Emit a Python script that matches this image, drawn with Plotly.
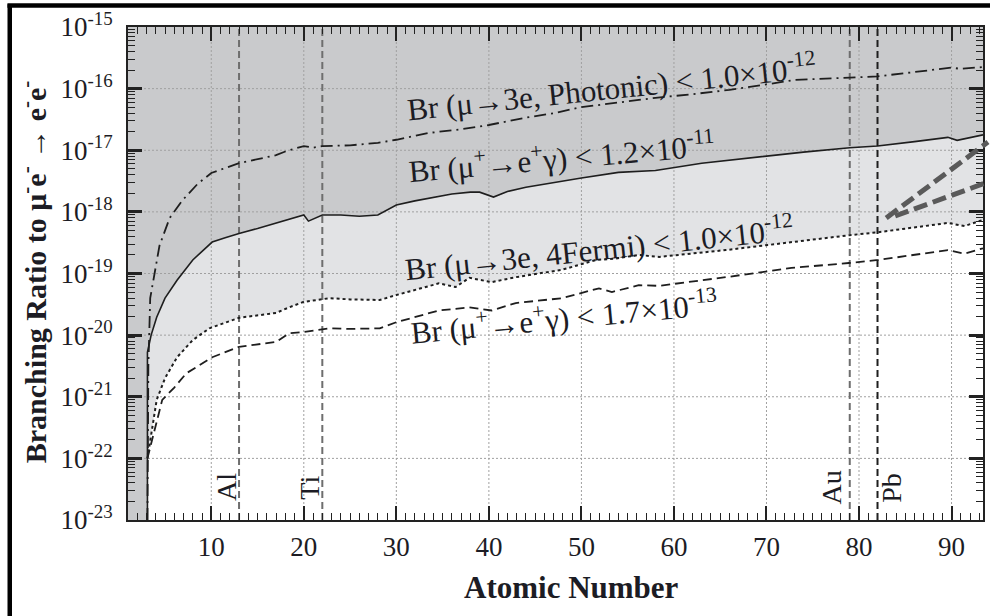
import plotly.graph_objects as go

# ---------------- data ----------------
photonic_z = [3.1, 3.2, 3.4, 4.4, 5.5, 6.9, 8.5, 10, 13, 15, 17, 18, 19, 20, 21, 22, 25, 28, 30,
              33.5, 37, 40, 44, 47, 50, 54, 58, 62, 66, 70, 73, 79, 82, 86, 90, 91, 93.4]
photonic_br = [1.0e-23, 3.16e-21, 3.98e-20, 2.82e-19, 7.94e-19, 1.55e-18, 2.82e-18, 4.27e-18,
               6.17e-18, 7.24e-18, 8.32e-18, 9.55e-18, 1.05e-17, 1.17e-17, 1.10e-17, 1.17e-17,
               1.20e-17, 1.32e-17, 1.48e-17, 1.91e-17, 2.19e-17, 2.57e-17, 3.39e-17, 3.98e-17,
               5.01e-17, 6.03e-17, 7.08e-17, 8.13e-17, 9.55e-17, 1.17e-16, 1.38e-16, 1.51e-16,
               1.58e-16, 1.86e-16, 2.19e-16, 2.09e-16, 2.24e-16]

meg12_z = [3.1, 3.1, 3.5, 4.1, 5, 6.3, 8, 10.1, 11.5, 13, 15, 17, 18.8, 20, 20.5, 22, 24, 26, 28,
           30, 32, 34, 36, 38, 39, 40.5, 42, 44, 47, 50, 54, 58, 63, 69, 74, 79, 82, 86, 89.6,
           90.6, 93.4]
meg12_br = [1.0e-23, 5.25e-21, 1.0e-20, 1.95e-20, 3.98e-20, 7.76e-20, 1.66e-19, 3.24e-19,
            3.80e-19, 4.47e-19, 5.37e-19, 6.61e-19, 7.94e-19, 8.91e-19, 7.08e-19, 8.91e-19,
            8.91e-19, 8.51e-19, 8.91e-19, 1.29e-18, 1.51e-18, 1.74e-18, 1.95e-18, 2.09e-18,
            2.09e-18, 1.74e-18, 2.14e-18, 2.51e-18, 3.02e-18, 3.55e-18, 4.37e-18, 4.68e-18,
            6.17e-18, 7.76e-18, 9.33e-18, 1.10e-17, 1.17e-17, 1.38e-17, 1.62e-17, 1.45e-17,
            1.78e-17]

fermi_z = [3.1, 3.5, 4.1, 5, 6.3, 8, 9.8, 13, 15, 17, 18.4, 20, 22.8, 25, 28.2, 30, 34.6, 36.4,
           37.9, 40.3, 42.9, 47.9, 51.6, 53.6, 56.2, 58.4, 65.6, 72.7, 78.9, 82.1, 89.6, 91.4, 93.4]
fermi_br = [1.0e-22, 2.51e-22, 8.91e-22, 2.0e-21, 4.37e-21, 8.32e-21, 1.29e-20, 1.91e-20,
            2.09e-20, 2.29e-20, 2.82e-20, 3.47e-20, 3.98e-20, 3.80e-20, 3.72e-20, 4.47e-20,
            6.92e-20, 6.03e-20, 8.51e-20, 7.24e-20, 8.71e-20, 1.15e-19, 1.66e-19, 1.74e-19,
            2.0e-19, 1.86e-19, 2.40e-19, 3.24e-19, 4.17e-19, 4.68e-19, 6.61e-19, 5.89e-19, 7.41e-19]

meg13_z = [3.1, 3.8, 4.7, 6, 7.3, 10.1, 13, 17, 18.4, 20, 22.8, 25, 28.2, 30, 34.6, 37.9, 40.3,
           42.9, 47.9, 51.9, 53.3, 56.2, 58.4, 65.6, 72.7, 78.9, 82.1, 89.6, 91.4, 93.4]
meg13_br = [1.0e-22, 2.51e-22, 8.91e-22, 1.41e-21, 2.40e-21, 4.37e-21, 6.46e-21, 7.76e-21,
            1.07e-20, 1.12e-20, 1.29e-20, 1.26e-20, 1.29e-20, 1.62e-20, 2.51e-20, 2.82e-20,
            2.51e-20, 3.31e-20, 3.98e-20, 5.75e-20, 5.01e-20, 6.46e-20, 6.31e-20, 8.71e-20,
            1.23e-19, 1.48e-19, 1.66e-19, 2.40e-19, 2.09e-19, 2.57e-19]

elements = ["Al", "Ti", "Au", "Pb"]
element_z = [13, 22, 79, 82]

x_tick_vals = [10, 20, 30, 40, 50, 60, 70, 80, 90]
y_exponents = [-23, -22, -21, -20, -19, -18, -17, -16, -15]

labels = [
    "Br (μ→3e, Photonic) < 1.0×10<sup>-12</sup>",
    "Br (μ<sup>+</sup>→e<sup>+</sup>γ) < 1.2×10<sup>-11</sup>",
    "Br (μ→3e, 4Fermi) < 1.0×10<sup>-12</sup>",
    "Br (μ<sup>+</sup>→e<sup>+</sup>γ) < 1.7×10<sup>-13</sup>",
]

# ---------------- styling ----------------
X_MIN, X_MAX = 1, 93.4
Y_MIN, Y_MAX = 1e-23, 1e-15
DARK = "#c9cacc"
LIGHT = "#e2e3e5"
INK = "#1c1c24"
SERIF = "Liberation Serif"

fig = go.Figure()

# light grey region: below the 1.2e-11 curve
fig.add_trace(go.Scatter(x=meg12_z + [X_MAX], y=meg12_br + [Y_MIN], fill="toself",
                         fillcolor=LIGHT, line=dict(width=0), mode="lines",
                         hoverinfo="skip", showlegend=False))
# white region: below the 4Fermi curve
fig.add_trace(go.Scatter(x=[fermi_z[0]] + fermi_z + [X_MAX], y=[Y_MIN] + fermi_br + [Y_MIN],
                         fill="toself", fillcolor="white", line=dict(width=0), mode="lines",
                         hoverinfo="skip", showlegend=False))

# grid lines (drawn above the shaded regions)
gx, gy = [], []
for v in x_tick_vals:
    gx += [v, v, None]
    gy += [Y_MIN, Y_MAX, None]
for e in y_exponents[1:-1]:
    gx += [X_MIN, X_MAX, None]
    gy += [10.0 ** e, 10.0 ** e, None]
fig.add_trace(go.Scatter(x=gx, y=gy, mode="lines", line=dict(color="#a0a0a0", width=1, dash="2px,2px"),
                         hoverinfo="skip", showlegend=False))

# element lines
for name, z in zip(elements, element_z):
    col = "#1e1e1e" if name == "Pb" else "#6e6e6e"
    fig.add_trace(go.Scatter(x=[z, z], y=[Y_MIN, Y_MAX], mode="lines",
                             line=dict(color=col, width=2, dash="7px,4px"),
                             hoverinfo="skip", showlegend=False))

# curves
fig.add_trace(go.Scatter(x=photonic_z, y=photonic_br, mode="lines",
                         line=dict(color="#1e1e1e", width=1.8, dash="12px,5px,2px,5px"), showlegend=False))
fig.add_trace(go.Scatter(x=meg12_z, y=meg12_br, mode="lines",
                         line=dict(color="#1e1e1e", width=1.6), showlegend=False))
fig.add_trace(go.Scatter(x=fermi_z, y=fermi_br, mode="lines",
                         line=dict(color="#1e1e1e", width=2, dash="3px,3px"), showlegend=False))
fig.add_trace(go.Scatter(x=meg13_z, y=meg13_br, mode="lines",
                         line=dict(color="#1e1e1e", width=1.8, dash="9px,5px"), showlegend=False))

# curve labels
label_pos = [(53.2, -15.97, -6), (47.8, -17.10, -5), (51.9, -18.58, -6), (48.1, -19.70, -5.5)]
for txt, (lx, ly, ang) in zip(labels, label_pos):
    fig.add_annotation(x=lx, y=ly, text=txt, showarrow=False, textangle=ang,
                       xanchor="center", yanchor="middle",
                       font=dict(family=SERIF, size=31, color=INK))

# element labels
elem_offset = [-1.35, -1.4, -2.0, 1.5]
for name, z, off in zip(elements, element_z, elem_offset):
    fig.add_annotation(x=z + off, y=-22.47, text=name, showarrow=False, textangle=-90,
                       xanchor="center", yanchor="middle",
                       font=dict(family=SERIF, size=28, color=INK))

# axis titles
fig.add_annotation(xref="paper", yref="paper", x=-0.1109, y=0.503, textangle=-90, showarrow=False,
                   xanchor="center", yanchor="middle",
                   text="<b>Branching Ratio to μ<sup>-</sup>e<sup>-</sup> → e<sup>-</sup>e<sup>-</sup></b>",
                   font=dict(family=SERIF, size=30, color=INK))
fig.add_annotation(xref="paper", yref="paper", x=0.519, y=-0.136, showarrow=False,
                   xanchor="center", yanchor="middle",
                   text="<b>Atomic Number</b>", font=dict(family=SERIF, size=31, color=INK))

# callout lines and outer frame
shapes = [
    dict(type="line", xref="paper", yref="paper", x0=0.8868, y0=0.6126, x1=1.0058, y1=0.7667,
         line=dict(color="#5a5a5a", width=5, dash="14px,6px"), layer="above"),
    dict(type="line", xref="paper", yref="paper", x0=0.8973, y0=0.6166, x1=1.0058, y1=0.6856,
         line=dict(color="#5a5a5a", width=5, dash="14px,6px"), layer="above"),
    dict(type="line", xref="paper", yref="paper", x0=-0.1383, y0=-0.2, x1=-0.1383, y1=1.046,
         line=dict(color="black", width=4.5), layer="above"),
    dict(type="line", xref="paper", yref="paper", x0=-0.141, y0=1.0436, x1=1.01, y1=1.0436,
         line=dict(color="black", width=4.5), layer="above"),
]

fig.update_layout(
    width=990, height=616,
    margin=dict(l=128, r=5, t=27, b=96),
    paper_bgcolor="white", plot_bgcolor=DARK,
    showlegend=False, shapes=shapes,
    font=dict(family=SERIF, color=INK),
)
fig.update_xaxes(
    range=[X_MIN, X_MAX], tickmode="array", tickvals=x_tick_vals,
    ticktext=[str(v) for v in x_tick_vals],
    ticks="inside", ticklen=14, tickwidth=2, tickcolor="#222",
    minor=dict(tickvals=list(range(2, 94)), ticks="inside", ticklen=7, tickwidth=1.3, tickcolor="#222"),
    showline=True, linewidth=2, linecolor="#222", mirror="ticks",
    showgrid=False, zeroline=False, layer="above traces",
    tickfont=dict(family=SERIF, size=27, color=INK), ticklabelstandoff=2,
)
fig.update_yaxes(
    type="log", range=[-23, -15], tickmode="array",
    tickvals=[10.0 ** e for e in y_exponents],
    ticktext=["10<sup>%d</sup>" % e for e in y_exponents],
    ticks="inside", ticklen=14, tickwidth=2.5, tickcolor="#222",
    minor=dict(tickvals=[m * 10.0 ** e for e in y_exponents[:-1] for m in range(2, 10)],
               ticks="inside", ticklen=7, tickwidth=1.3, tickcolor="#222"),
    showline=True, linewidth=2, linecolor="#222", mirror="ticks",
    showgrid=False, zeroline=False, layer="above traces",
    tickfont=dict(family=SERIF, size=27, color=INK), ticklabelstandoff=8,
)

fig.write_html("out.html")
